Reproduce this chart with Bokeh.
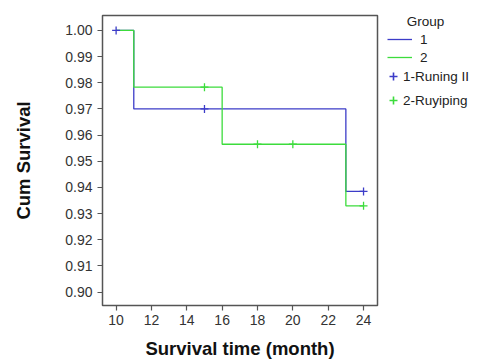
from bokeh.plotting import figure
from bokeh.layouts import row
from bokeh.models import (Range1d, FixedTicker, NumeralTickFormatter, Legend, LegendItem, Label,
                          Plot, ColumnDataSource, Step, Scatter)
from bokeh.embed import file_html
from bokeh.resources import INLINE

# Kaplan-Meier step data
g1_time = [10, 11, 23, 24]
g1_surv = [1.000, 0.970, 0.9385, 0.9385]
g2_time = [10, 11, 16, 23, 24]
g2_surv = [1.000, 0.9783, 0.9565, 0.933, 0.933]
# censored observations
g1_cens_time = [10, 15, 24]
g1_cens_surv = [1.000, 0.970, 0.9385]
g2_cens_time = [15, 18, 20, 24]
g2_cens_surv = [0.9783, 0.9565, 0.9565, 0.933]

x_ticks = [10, 12, 14, 16, 18, 20, 22, 24]
y_ticks = [0.90, 0.91, 0.92, 0.93, 0.94, 0.95, 0.96, 0.97, 0.98, 0.99, 1.00]
legend_title = "Group"
line_labels = ["1", "2"]
censor_labels = ["1-Runing II", "2-Ruyiping"]

BLUE = "#3c3cc8"
GREEN = "#3cdc3c"
FONT = "Liberation Sans"
H = 362
FRAME_TOP, FRAME_BOTTOM = 15, 305
FRAME_H = FRAME_BOTTOM - FRAME_TOP

p = figure(width=380, height=H, output_backend="svg", toolbar_location=None,
           x_range=Range1d(9.23, 24.79), y_range=Range1d(0.8949, 1.0057),
           min_border_left=102, min_border_right=3, min_border_top=FRAME_TOP,
           min_border_bottom=H - FRAME_BOTTOM)

p.xgrid.visible = False
p.ygrid.visible = False
p.outline_line_color = "#555555"
p.outline_line_width = 1.5
p.background_fill_color = "white"
p.border_fill_color = "white"

for ax in (p.xaxis[0], p.yaxis[0]):
    ax.axis_line_color = None
    ax.major_tick_line_color = "#555555"
    ax.major_tick_line_width = 1.2
    ax.major_tick_in = 0
    ax.major_tick_out = 5
    ax.minor_tick_line_color = None
    ax.major_label_text_font = FONT
    ax.major_label_text_font_size = "14px"
    ax.major_label_text_color = "#333333"
    ax.axis_label_text_font = FONT
    ax.axis_label_text_font_style = "bold"
    ax.axis_label_text_font_size = "18.5px"
    ax.axis_label_text_color = "#111111"

p.xaxis.ticker = FixedTicker(ticks=x_ticks)
p.yaxis.ticker = FixedTicker(ticks=y_ticks)
p.yaxis.formatter = NumeralTickFormatter(format="0.00")
p.xaxis.axis_label = "Survival time (month)"
p.yaxis.axis_label = "Cum Survival"
p.xaxis.major_label_standoff = 4
p.yaxis.major_label_standoff = 5
p.xaxis.axis_label_standoff = 10
p.yaxis.axis_label_standoff = 28

l1 = p.step(g1_time, g1_surv, mode="after", line_color=BLUE, line_width=1.3)
l2 = p.step(g2_time, g2_surv, mode="after", line_color=GREEN, line_width=1.3)
c1 = p.scatter(g1_cens_time, g1_cens_surv, marker="cross", size=8, line_color=BLUE, line_width=1.3)
c2 = p.scatter(g2_cens_time, g2_cens_surv, marker="cross", size=8, line_color=GREEN, line_width=1.3)

# legend panel to the right of the plot frame (its frame is aligned with the plot's frame)
q = Plot(width=94, height=H, output_backend="svg", toolbar_location=None,
         x_range=Range1d(0, 94), y_range=Range1d(0, FRAME_H),
         min_border=0, outline_line_color=None)
q.border_fill_color = "white"
q.background_fill_color = "white"

src1 = ColumnDataSource(dict(t=g1_time, s=g1_surv))
src2 = ColumnDataSource(dict(t=g2_time, s=g2_surv))
csrc1 = ColumnDataSource(dict(t=g1_cens_time, s=g1_cens_surv))
csrc2 = ColumnDataSource(dict(t=g2_cens_time, s=g2_cens_surv))
ql1 = q.add_glyph(src1, Step(x="t", y="s", mode="after", line_color=BLUE, line_width=1.3))
ql2 = q.add_glyph(src2, Step(x="t", y="s", mode="after", line_color=GREEN, line_width=1.3))
qc1 = q.add_glyph(csrc1, Scatter(x="t", y="s", marker="cross", size=8, line_color=BLUE, line_width=1.6))
qc2 = q.add_glyph(csrc2, Scatter(x="t", y="s", marker="cross", size=8, line_color=GREEN, line_width=1.6))
for r in (ql1, ql2, qc1, qc2):
    r.visible = False

def style(lg):
    lg.label_text_font = FONT
    lg.label_text_font_size = "13.5px"
    lg.label_text_color = "#222222"
    lg.margin = 0
    lg.padding = 0
    lg.border_line_color = None
    lg.background_fill_alpha = 0
    lg.click_policy = "none"

# positions: page top of each legend block, measured in px
leg_a_top, leg_a_h = 30, 36
leg_b_top, leg_b_h = 66, 44

leg_a = Legend(items=[LegendItem(label=line_labels[0], renderers=[ql1]),
                      LegendItem(label=line_labels[1], renderers=[ql2])],
               location=(7, FRAME_BOTTOM - leg_a_top - leg_a_h))
style(leg_a)
leg_a.glyph_width = 25
leg_a.glyph_height = 18
leg_a.spacing = 0
leg_a.label_standoff = 8
q.add_layout(leg_a)

leg_b = Legend(items=[LegendItem(label=censor_labels[0], renderers=[qc1]),
                      LegendItem(label=censor_labels[1], renderers=[qc2])],
               location=(3, FRAME_BOTTOM - leg_b_top - leg_b_h))
style(leg_b)
leg_b.glyph_width = 20
leg_b.glyph_height = 20
leg_b.spacing = 4
leg_b.label_standoff = 0
q.add_layout(leg_b)

title = Label(x=45, y=FRAME_BOTTOM - 21, text=legend_title, text_font=FONT, text_font_size="13.5px",
              text_color="#222222", text_align="center", text_baseline="middle")
q.add_layout(title)

layout = row(p, q, spacing=0)
open("out.html", "w").write(file_html(layout, INLINE))
